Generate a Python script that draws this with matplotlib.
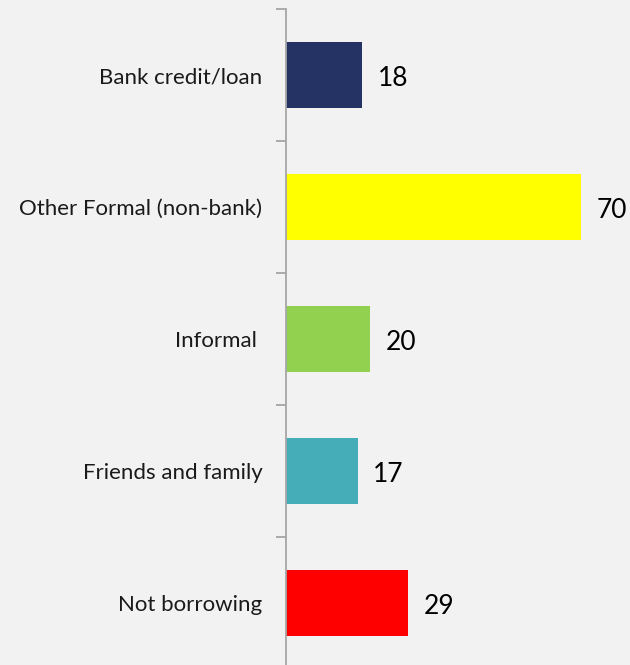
import matplotlib
matplotlib.use("Agg")
import matplotlib.pyplot as plt

categories = ["Bank credit/loan", "Other Formal (non-bank)", "Informal ", "Friends and family", "Not borrowing"]
values = [18, 70, 20, 17, 29]
colors = ["#243264", "#ffff00", "#92d050", "#45adb8", "#ff0000"]

bg = "#f2f2f2"
fig = plt.figure(figsize=(6.3, 6.65), dpi=100, facecolor=bg)
ax = fig.add_axes([286 / 630, (665 - 669) / 665, 344 / 630, 660 / 665], facecolor=bg)

pos = list(range(len(categories)))
ax.barh(pos, values, height=0.5, color=colors, zorder=2)

ax.set_ylim(len(categories) - 0.5, -0.5)
ax.set_xlim(0, 344 / 4.22)

for s in ["top", "right", "bottom"]:
    ax.spines[s].set_visible(False)
ax.spines["left"].set_color("#a6a6a6")
ax.spines["left"].set_linewidth(1.3)
ax.set_xticks([])

# tick marks on category boundaries, labels at category centres
ax.set_yticks([i - 0.5 for i in range(len(categories) + 1)])
ax.set_yticklabels([])
ax.tick_params(axis="y", which="major", length=7, width=1.3, color="#a6a6a6")
ax.set_yticks(pos, minor=True)
ax.set_yticklabels(categories, minor=True, fontsize=16, family="Lato", color="#1a1a1a")
ax.tick_params(axis="y", which="minor", length=0, pad=17)

for p, v in zip(pos, values):
    ax.text(v + 15.6 / 4.22, p + 0.03, str(v), va="center", ha="left",
            fontsize=19, family="Lato", color="#000000")

fig.savefig("out.png", dpi=100, facecolor=bg)
